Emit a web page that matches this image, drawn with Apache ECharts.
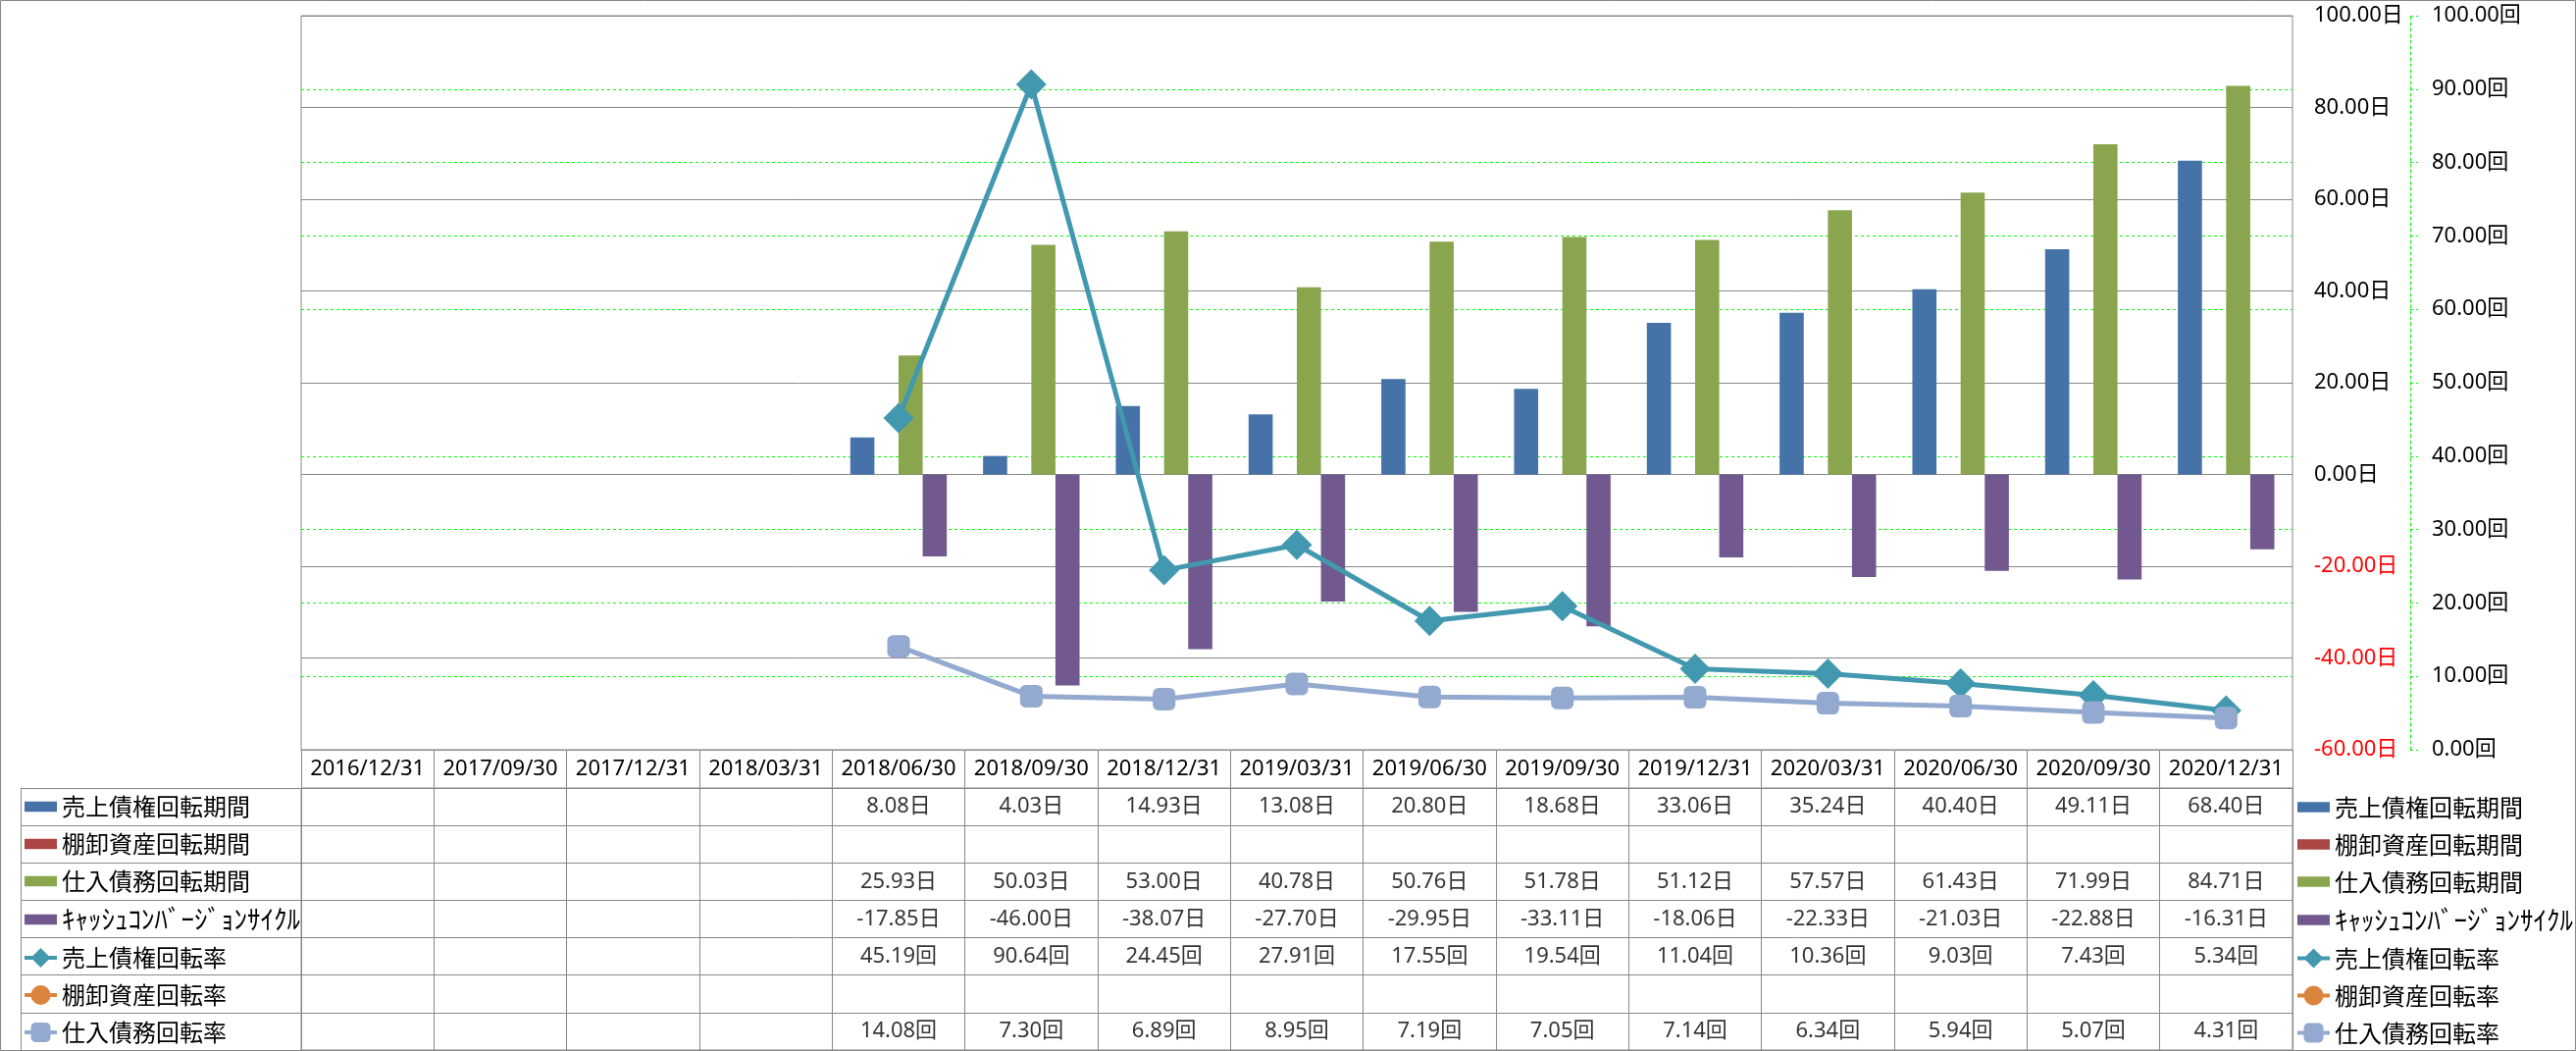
<!DOCTYPE html>
<html>
<head>
<meta charset="utf-8">
<script src="https://cdn.jsdelivr.net/npm/echarts@6/dist/echarts.min.js"></script>
<style>
  html, body { margin: 0; padding: 0; background: #fff; }
  #chart { width: 2626px; height: 1071px; }
</style>
</head>
<body>
<div id="chart"></div>
<script>
// 期間
var categories = ['2016/12/31', '2017/09/30', '2017/12/31', '2018/03/31', '2018/06/30', '2018/09/30', '2018/12/31',
  '2019/03/31', '2019/06/30', '2019/09/30', '2019/12/31', '2020/03/31', '2020/06/30', '2020/09/30', '2020/12/31'];

var seriesNames = ['売上債権回転期間', '棚卸資産回転期間', '仕入債務回転期間', 'ｷｬｯｼｭｺﾝﾊﾞｰｼﾞｮﾝｻｲｸﾙ',
  '売上債権回転率', '棚卸資産回転率', '仕入債務回転率'];

// 日 (左軸)
var receivableDays = [null, null, null, null, 8.08, 4.03, 14.93, 13.08, 20.80, 18.68, 33.06, 35.24, 40.40, 49.11, 68.40];
var inventoryDays = [null, null, null, null, null, null, null, null, null, null, null, null, null, null, null];
var payableDays = [null, null, null, null, 25.93, 50.03, 53.00, 40.78, 50.76, 51.78, 51.12, 57.57, 61.43, 71.99, 84.71];
var cccDays = [null, null, null, null, -17.85, -46.00, -38.07, -27.70, -29.95, -33.11, -18.06, -22.33, -21.03, -22.88, -16.31];

// 回 (右軸)
var receivableTurnover = [null, null, null, null, 45.19, 90.64, 24.45, 27.91, 17.55, 19.54, 11.04, 10.36, 9.03, 7.43, 5.34];
var inventoryTurnover = [null, null, null, null, null, null, null, null, null, null, null, null, null, null, null];
var payableTurnover = [null, null, null, null, 14.08, 7.30, 6.89, 8.95, 7.19, 7.05, 7.14, 6.34, 5.94, 5.07, 4.31];

// 軸の目盛
var dayAxis = [-60, 100, 20];
var timesAxis = [0, 100, 10];

var colors = ['#4572A7', '#AA4643', '#89A54E', '#71588F', '#4198AF', '#DB843D', '#93A9CF'];
var units = ['日', '日', '日', '日', '回', '回', '回'];
var rows = [receivableDays, inventoryDays, payableDays, cccDays, receivableTurnover, inventoryTurnover, payableTurnover];

var latin = "'Noto Sans', 'Noto Sans CJK JP', sans-serif";
var cjk = "'Noto Sans CJK JP', 'Noto Sans', sans-serif";
var gray = '#888888';
var green = '#00ff00';

// 表のセル
var cells = [];
rows.forEach(function (row, r) {
  row.forEach(function (v, i) {
    if (v != null) cells.push({ name: v.toFixed(2) + units[r], value: [i, r] });
  });
});

var barIcon = 'path://M0,0H32V10H0Z';
var legendData = seriesNames.map(function (n, i) {
  var item = i < 4 ? { name: n, icon: barIcon } : { name: n };
  if (i === 3) item.textStyle = { fontSize: 27 }; // 半角カナは幅が狭いので少し大きく
  return item;
});
function makeLegend(left, top) {
  return {
    orient: 'vertical', left: left, top: top, padding: 0,
    itemWidth: 33, itemHeight: 25, itemGap: 13, selectedMode: false,
    textStyle: { fontSize: 24, lineHeight: 25, color: '#000', fontFamily: cjk },
    lineStyle: { width: 4 },
    data: legendData
  };
}

var myChart = echarts.init(document.getElementById('chart'));

var option = {
  animation: false,
  backgroundColor: '#fff',
  color: colors,
  textStyle: { fontFamily: latin },
  graphic: [{
    type: 'rect', shape: { x: 0.5, y: 0.5, width: 2625, height: 1070 },
    style: { fill: 'none', stroke: gray, lineWidth: 1 }, silent: true
  }],
  legend: [makeLegend(23, 809.5), makeLegend(2340, 810)],
  grid: [
    { left: 307, top: 16, width: 2030, height: 748, show: true, borderColor: gray, borderWidth: 1 },
    { left: 307, top: 803, width: 2030, height: 267, show: true, borderColor: gray, borderWidth: 1 }
  ],
  xAxis: [
    {
      type: 'category', gridIndex: 0, data: categories, boundaryGap: true,
      axisLine: { show: true, onZero: false, lineStyle: { color: gray } },
      axisTick: { show: true, interval: 0, length: 39, lineStyle: { color: gray } },
      axisLabel: { interval: 0, margin: 9, fontSize: 22, color: '#000', fontFamily: latin },
      splitLine: { show: false }
    },
    {
      type: 'category', gridIndex: 1, data: categories, boundaryGap: true,
      axisLine: { show: false }, axisTick: { show: false }, axisLabel: { show: false },
      splitLine: { show: true, interval: 0, lineStyle: { color: gray } }
    }
  ],
  yAxis: [
    {
      type: 'value', gridIndex: 0, position: 'right', z: 1,
      min: dayAxis[0], max: dayAxis[1], interval: dayAxis[2],
      axisLine: { show: false }, axisTick: { show: false },
      axisLabel: {
        margin: 22, fontSize: 22, fontFamily: latin,
        formatter: function (v) { return v.toFixed(2) + '日'; },
        color: function (v) { return Number(v) < 0 ? '#ff0000' : '#000'; }
      },
      splitLine: { show: true, lineStyle: { color: gray, width: 1 } }
    },
    {
      type: 'value', gridIndex: 0, position: 'right', offset: 120, z: 0,
      min: timesAxis[0], max: timesAxis[1], interval: timesAxis[2],
      axisLine: { show: true, lineStyle: { color: green, type: [3, 3], width: 1 } },
      axisTick: { show: true, length: 8, lineStyle: { color: green, type: [3, 3] } },
      axisLabel: {
        margin: 22, fontSize: 22, color: '#000', fontFamily: latin,
        formatter: function (v) { return v.toFixed(2) + '回'; }
      },
      splitLine: { show: true, lineStyle: { color: green, type: [3, 3], width: 1 } }
    },
    {
      type: 'category', gridIndex: 1, data: seriesNames, inverse: true, boundaryGap: true,
      axisLine: { show: true, lineStyle: { color: gray } },
      axisTick: { show: true, interval: 0, length: 286, lineStyle: { color: gray } },
      axisLabel: { show: false },
      splitLine: { show: true, interval: 0, lineStyle: { color: gray } }
    },
    {
      type: 'category', gridIndex: 1, data: seriesNames, position: 'left', offset: 286,
      axisLine: { show: true, lineStyle: { color: gray } },
      axisTick: { show: false }, axisLabel: { show: false }, splitLine: { show: false }
    }
  ],
  series: [
    { name: seriesNames[0], type: 'bar', data: receivableDays, barGap: 0, barCategoryGap: '27.3%' },
    { name: seriesNames[1], type: 'bar', data: inventoryDays, barGap: 0, barCategoryGap: '27.3%' },
    { name: seriesNames[2], type: 'bar', data: payableDays, barGap: 0, barCategoryGap: '27.3%' },
    { name: seriesNames[3], type: 'bar', data: cccDays, barGap: 0, barCategoryGap: '27.3%' },
    {
      name: seriesNames[4], type: 'line', yAxisIndex: 1, data: receivableTurnover,
      symbol: 'diamond', symbolSize: 31, lineStyle: { width: 5 }, z: 3
    },
    {
      name: seriesNames[5], type: 'line', yAxisIndex: 1, data: inventoryTurnover,
      symbol: 'circle', symbolSize: 22, lineStyle: { width: 5 }, z: 3
    },
    {
      name: seriesNames[6], type: 'line', yAxisIndex: 1, data: payableTurnover,
      symbol: 'roundRect', symbolSize: 23, lineStyle: { width: 5 }, z: 4
    },
    {
      name: 'table', type: 'scatter', xAxisIndex: 1, yAxisIndex: 2, data: cells,
      symbolSize: 1, itemStyle: { color: 'rgba(0,0,0,0)' }, silent: true,
      label: {
        show: true, position: 'inside', formatter: '{b}',
        fontSize: 22, color: '#000', fontFamily: latin
      },
      emphasis: { disabled: true }
    }
  ]
};

myChart.setOption(option);
</script>
</body>
</html>
